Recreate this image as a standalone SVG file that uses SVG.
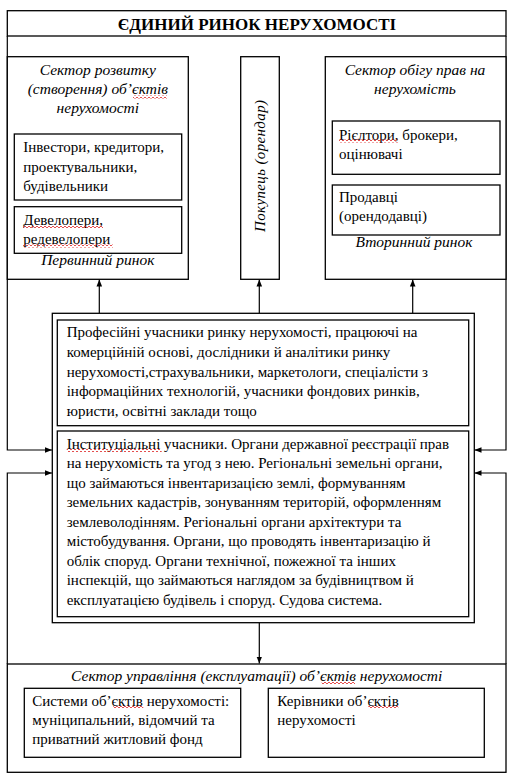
<svg xmlns="http://www.w3.org/2000/svg" width="518" height="783" viewBox="0 0 518 783">
<style>
.b{fill:#fff;stroke:#000;stroke-width:1.3}
.l{fill:none;stroke:#000;stroke-width:1.2}
.t{font-family:"Liberation Serif","Times New Roman",serif;font-size:15px;fill:#000}
.i{font-family:"Liberation Serif","Times New Roman",serif;font-size:15.5px;font-style:italic;fill:#000}
.h{font-family:"Liberation Serif","Times New Roman",serif;font-size:17px;font-weight:bold;fill:#000}
.w{fill:none;stroke:#d22;stroke-width:0.8}
</style>
<defs>
<marker id="a" viewBox="0 0 10 10" refX="10" refY="5" markerWidth="7" markerHeight="7" markerUnits="userSpaceOnUse" orient="auto">
<path d="M0,1 L10,5 L0,9 Z" fill="#000"/>
</marker>
<pattern id="wv" width="4" height="3" patternUnits="userSpaceOnUse">
<path d="M0,2 L1,1 L3,3 L4,2" class="w"/>
</pattern>
</defs>
<rect width="518" height="783" fill="#fff"/>

<g id="connectors">
<path class="l" d="M7.3,36 V450 H52" marker-end="url(#a)"/>
<path class="l" d="M506,36 V450 H474.5" marker-end="url(#a)"/>
<path class="l" d="M7.3,664 V473 H52" marker-end="url(#a)"/>
<path class="l" d="M506,664 V473 H474.5" marker-end="url(#a)"/>
<path class="l" d="M99.3,313.3 V279.5" marker-end="url(#a)"/>
<path class="l" d="M259.3,313.3 V279.5" marker-end="url(#a)"/>
<path class="l" d="M412.7,313.3 V279.5" marker-end="url(#a)"/>
<path class="l" d="M259.3,622.7 V663.5" marker-end="url(#a)"/>
</g>

<g id="title">
<rect class="b" x="7.3" y="10.7" width="498.7" height="25.3"/>
<text class="h" x="257" y="30" text-anchor="middle">ЄДИНИЙ РИНОК НЕРУХОМОСТІ</text>
</g>

<g id="sector-development">
<rect class="b" x="7.3" y="56.7" width="181" height="222.6"/>
<text class="i" x="97.8" y="75" text-anchor="middle">Сектор розвитку</text>
<text class="i" x="97.8" y="94" text-anchor="middle">(створення) об’єктів</text>
<text class="i" x="97.8" y="113" text-anchor="middle">нерухомості</text>
<rect x="133" y="95.5" width="34" height="3" fill="url(#wv)"/>
<text class="i" x="97.8" y="265" text-anchor="middle">Первинний ринок</text>
</g>
<g id="investors">
<rect class="b" x="14.3" y="134" width="167.4" height="66"/>
<text class="t" x="23.3" y="152">Інвестори, кредитори,</text>
<text class="t" x="23.3" y="171.5">проектувальники,</text>
<text class="t" x="23.3" y="190.5">будівельники</text>
</g>
<g id="developers">
<rect class="b" x="14.3" y="206.7" width="167.4" height="46.6"/>
<text class="t" x="23.3" y="225">Девелопери,</text>
<text class="t" x="23.3" y="243.5">редевелопери</text>
<rect x="23" y="225.5" width="80" height="3" fill="url(#wv)"/>
<rect x="23" y="244.5" width="90" height="3" fill="url(#wv)"/>
</g>

<g id="buyer">
<rect class="b" x="240.7" y="56.7" width="38.6" height="222.6"/>
<text class="i" style="font-size:15px" transform="translate(265,166) rotate(-90)" text-anchor="middle" textLength="132" lengthAdjust="spacing">Покупець (орендар)</text>
</g>

<g id="sector-circulation">
<rect class="b" x="325.3" y="56.7" width="180.7" height="222.6"/>
<text class="i" x="415" y="75" text-anchor="middle">Сектор обігу прав на</text>
<text class="i" x="415" y="93.5" text-anchor="middle">нерухомість</text>
<text class="i" x="414" y="246.5" text-anchor="middle">Вторинний ринок</text>
</g>
<g id="realtors">
<rect class="b" x="332.3" y="121" width="167.7" height="53.3"/>
<text class="t" x="339" y="140">Рієлтори, брокери,</text>
<text class="t" x="339" y="158.5">оцінювачі</text>
<rect x="339" y="139.5" width="59" height="3" fill="url(#wv)"/>
</g>
<g id="sellers">
<rect class="b" x="332.3" y="185" width="167.7" height="50"/>
<text class="t" x="339" y="202">Продавці</text>
<text class="t" x="339" y="220.5">(орендодавці)</text>
</g>

<g id="participants">
<rect class="b" x="52.3" y="313.3" width="422" height="309.4"/>
</g>
<g id="professional">
<rect class="b" x="57.3" y="320" width="411.4" height="105.7"/>
<text class="t" x="66.7" y="337">Професійні учасники ринку нерухомості, працюючі на</text>
<text class="t" x="66.7" y="356.5">комерційній основі, дослідники й аналітики ринку</text>
<text class="t" x="66.7" y="376.5">нерухомості,страхувальники, маркетологи, спеціалісти з</text>
<text class="t" x="66.7" y="396">інформаційних технологій, учасники фондових ринків,</text>
<text class="t" x="66.7" y="415.5">юристи, освітні заклади тощо</text>
</g>
<g id="institutional">
<rect class="b" x="57.3" y="431" width="411.4" height="185.7"/>
<text class="t" x="66.7" y="448.5">Інституціальні учасники. Органи державної реєстрації прав</text>
<text class="t" x="66.7" y="468">на нерухомість та угод з нею. Регіональні земельні органи,</text>
<text class="t" x="66.7" y="487.5">що займаються інвентаризацією землі, формуванням</text>
<text class="t" x="66.7" y="507">земельних кадастрів, зонуванням територій, оформленням</text>
<text class="t" x="66.7" y="526.5">землеволодінням. Регіональні органи архітектури та</text>
<text class="t" x="66.7" y="546">містобудування. Органи, що проводять інвентаризацію й</text>
<text class="t" x="66.7" y="565.5">облік споруд. Органи технічної, пожежної та інших</text>
<text class="t" x="66.7" y="585">інспекцій, що займаються наглядом за будівництвом й</text>
<text class="t" x="66.7" y="604.5">експлуатацією будівель і споруд. Судова система.</text>
<rect x="66.7" y="449" width="95" height="3" fill="url(#wv)"/>
</g>

<g id="sector-management">
<rect class="b" x="7.3" y="664" width="498.7" height="108.3"/>
<text class="i" x="256.7" y="680.5" text-anchor="middle">Сектор управління (експлуатації) об’єктів нерухомості</text>
<rect x="321.7" y="681.5" width="33.3" height="3" fill="url(#wv)"/>
</g>
<g id="systems">
<rect class="b" x="24.3" y="688.3" width="216.4" height="69"/>
<text class="t" x="32.3" y="705.5">Системи об’єктів нерухомості:</text>
<text class="t" x="32.3" y="724.5">муніципальний, відомчий та</text>
<text class="t" x="32.3" y="743.5">приватний житловий фонд</text>
<rect x="113.3" y="706" width="30" height="3" fill="url(#wv)"/>
</g>
<g id="managers">
<rect class="b" x="268.3" y="688.3" width="216" height="69"/>
<text class="t" x="277.3" y="705.5">Керівники об’єктів</text>
<text class="t" x="277.3" y="724.5">нерухомості</text>
<rect x="368.3" y="706" width="30" height="3" fill="url(#wv)"/>
</g>
</svg>
